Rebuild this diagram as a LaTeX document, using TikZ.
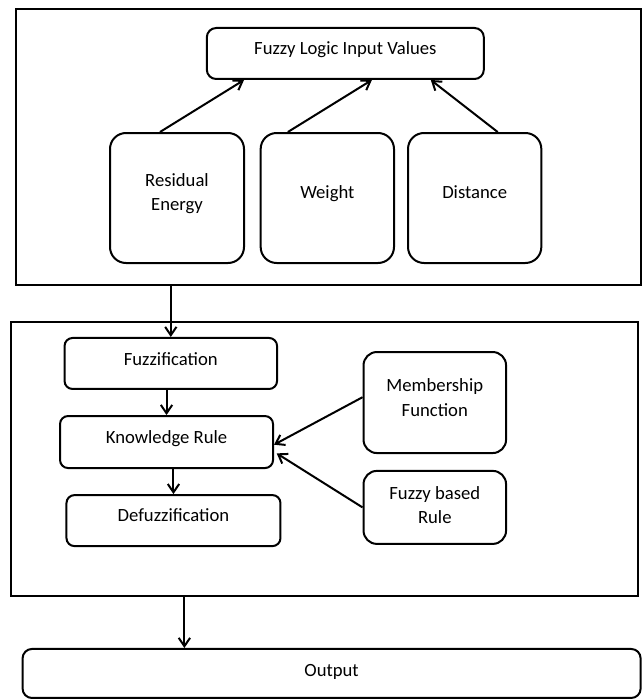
\documentclass[tikz,border=0pt]{standalone}
\usepackage{fontspec}
\setmainfont{Carlito}
\usepackage{tikz}
\usetikzlibrary{positioning,fit,arrows.meta}
\tikzset{
    frame/.style={draw=black, line width=1.5pt, inner sep=0pt},
    oneLine/.style={text height=9pt, text depth=6.5pt},
    twoLine/.style={text height=26pt, text depth=6pt},
    inBox/.style={draw=black, line width=1.5pt, rounded corners=7pt,
                  align=center, inner sep=2pt},
    stepBox/.style={draw=black, line width=1.5pt, rounded corners=6pt,
                    align=center, inner sep=2pt, minimum height=38.25pt, oneLine},
    srcBox/.style={draw=black, line width=1.5pt, rounded corners=10pt,
                   align=center, inner sep=2pt, minimum width=106.9pt, twoLine},
    flow/.style={-{Straight Barb[length=2.2mm, width=3mm]}, line width=1.5pt},
}

\begin{document}
\begin{tikzpicture}[
    font=\fontsize{14}{18.5}\selectfont,
]
\useasboundingbox (0,0) rectangle (482.25pt,-524.25pt);

% =======================  INPUT frame  =======================
\node[inBox, rounded corners=12pt, minimum width=100.5pt, minimum height=97.5pt,
      twoLine, text depth=6.8pt] (resid) at (132.75pt,-148.5pt) {Residual\\Energy};
\node[inBox, rounded corners=12pt, minimum width=100pt, minimum height=97.5pt,
      oneLine, text depth=8pt, right=11pt of resid] (weight) {Weight};
\node[inBox, rounded corners=12pt, minimum width=100pt, minimum height=97.5pt,
      oneLine, text depth=8pt, right=9pt of weight] (dist) {Distance};

\node[inBox, minimum width=207.75pt, minimum height=38.25pt, oneLine, text depth=7pt,
      above=39pt of weight, xshift=13.5pt] (inVals) {Fuzzy Logic Input Values};

\draw[flow] ([xshift=-12.75pt]resid.north) -- ([xshift=-76pt]inVals.south);
\draw[flow] ([xshift=-29.6pt]weight.north) -- ([xshift=19.9pt]inVals.south);
\draw[flow] ([xshift=17.25pt]dist.north) -- ([xshift=64.1pt]inVals.south);

\node[frame, fit={(11.7pt,-6.75pt) (480.5pt,-213.75pt)}] (topFrame) {};

% =======================  INFERENCE frame  =======================
\node[stepBox, minimum width=159.4pt, text depth=5.6pt] (fuzz) at (128.1pt,-272.6pt)
     {Fuzzification};
\node[stepBox, minimum width=159.75pt, minimum height=39pt,
      below=18.8pt of fuzz, xshift=-3.2pt] (know) {Knowledge Rule};
\node[stepBox, minimum width=160.5pt, text depth=7pt,
      below=18.8pt of know, xshift=5.2pt] (defuzz) {Defuzzification};

\node[srcBox, minimum height=75.75pt, text depth=5.7pt] (member) at (326.1pt,-301.9pt)
     {Membership\\Function};
\node[srcBox, minimum height=54.75pt, text height=28pt, text depth=3.4pt,
      below=11.9pt of member] (fzRule) {Fuzzy based\\Rule};

\node[frame, fit={(8.6pt,-241.3pt) (478.5pt,-447pt)}] (botFrame) {};

\draw[flow] (topFrame.south -| fuzz.north) -- (fuzz.north);
\draw[flow] (fuzz.south -| know.north) -- (know.north);
\draw[flow] (know.south -| defuzz.north) -- (defuzz.north);
\draw[flow] ([yshift=4pt]member.west) -- ([yshift=-2pt]know.east);
\draw[flow] (fzRule.west) -- ([xshift=2pt,yshift=-8.5pt]know.east);

% =======================  OUTPUT  =======================
\node[stepBox, rounded corners=7pt, minimum width=463.5pt, minimum height=36.75pt,
      text depth=4pt] (output) at (248.7pt,-505.1pt) {Output};
\coordinate (outIn) at (138.3pt,-447pt);
\draw[flow] (outIn) -- (outIn |- output.north);

\end{tikzpicture}
\end{document}
